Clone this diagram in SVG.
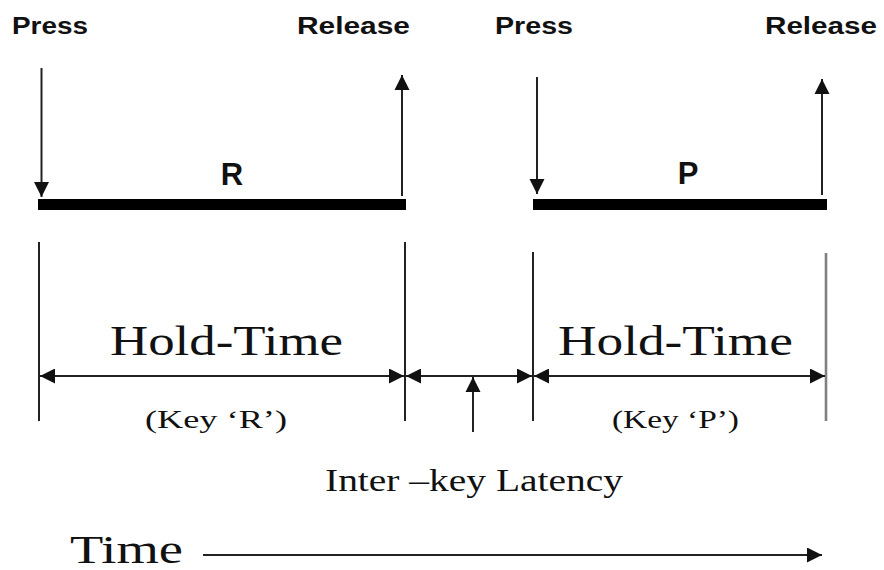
<svg xmlns="http://www.w3.org/2000/svg" width="884" height="570" viewBox="0 0 884 570">
<style>
.lbl{font-family:"Liberation Sans",Arial,sans-serif;font-weight:bold;fill:#111}
.ser{font-family:"Liberation Serif","Times New Roman",serif;fill:#111}
.ln{stroke:#222;stroke-width:2;fill:none}
.va{stroke:#222;stroke-width:2;fill:none;marker-end:url(#vh)}
.da{stroke:#222;stroke-width:2.2;fill:none;marker-start:url(#dh);marker-end:url(#dh)}
</style>
<defs>
<marker id="vh" viewBox="0 0 10 10" refX="10" refY="5" markerUnits="userSpaceOnUse" markerWidth="15" markerHeight="18" orient="auto">
<path d="M0,0 L10,5 L0,10 Z" fill="#111"/>
</marker>
<marker id="dh" viewBox="0 0 10 10" refX="10" refY="5" markerUnits="userSpaceOnUse" markerWidth="20" markerHeight="15" orient="auto-start-reverse">
<path d="M0,0 L10,5 L0,10 Z" fill="#111"/>
</marker>
</defs>
<g id="key-R">
<text class="lbl" x="12" y="34" font-size="23" textLength="76" lengthAdjust="spacingAndGlyphs">Press</text>
<text class="lbl" x="297" y="34" font-size="23" textLength="113" lengthAdjust="spacingAndGlyphs">Release</text>
<rect x="38" y="199" width="368" height="11" fill="#000"/>
<text class="lbl" x="232" y="185" font-size="31" text-anchor="middle">R</text>
</g>
<g id="key-P">
<text class="lbl" x="495" y="34" font-size="23" textLength="78" lengthAdjust="spacingAndGlyphs">Press</text>
<text class="lbl" x="765" y="34" font-size="23" textLength="112" lengthAdjust="spacingAndGlyphs">Release</text>
<rect x="533" y="199" width="294" height="11" fill="#000"/>
<text class="lbl" x="688" y="184" font-size="31" text-anchor="middle">P</text>
</g>
<g id="hold-R">
<text class="ser" x="110" y="355" font-size="42" textLength="233" lengthAdjust="spacingAndGlyphs">Hold-Time</text>
<text class="ser" x="145" y="428" font-size="26" textLength="142" lengthAdjust="spacingAndGlyphs">(Key ‘R’)</text>
</g>
<g id="hold-P">
<text class="ser" x="558" y="355" font-size="42" textLength="235" lengthAdjust="spacingAndGlyphs">Hold-Time</text>
<text class="ser" x="612" y="428" font-size="26" textLength="127" lengthAdjust="spacingAndGlyphs">(Key ‘P’)</text>
</g>
<g id="latency">
<text class="ser" x="325" y="491" font-size="32" textLength="298" lengthAdjust="spacingAndGlyphs">Inter –key Latency</text>
</g>
<g id="time">
<text class="ser" x="70" y="563" font-size="39" textLength="113" lengthAdjust="spacingAndGlyphs">Time</text>
</g>
<g id="connectors">
<line class="va" x1="41.5" y1="68" x2="41.5" y2="197"/>
<line class="va" x1="402" y1="196" x2="402" y2="75"/>
<line class="va" x1="537" y1="77" x2="537" y2="194"/>
<line class="va" x1="822" y1="195" x2="822" y2="79"/>
<line class="ln" x1="39" y1="242" x2="39" y2="421"/>
<line class="ln" x1="405" y1="242" x2="405" y2="421"/>
<line class="ln" x1="533" y1="252" x2="533" y2="421"/>
<line class="ln" x1="826" y1="253" x2="826" y2="421" style="stroke:#808080;stroke-width:2.6"/>
<line class="da" x1="40" y1="376" x2="404" y2="376"/>
<line class="da" x1="406" y1="376" x2="532" y2="376"/>
<line class="da" x1="534" y1="376" x2="825" y2="376"/>
<line class="va" x1="473" y1="432" x2="473" y2="377"/>
<line class="ln" x1="203" y1="555" x2="822" y2="555" style="marker-end:url(#dh)"/>
</g>
</svg>
